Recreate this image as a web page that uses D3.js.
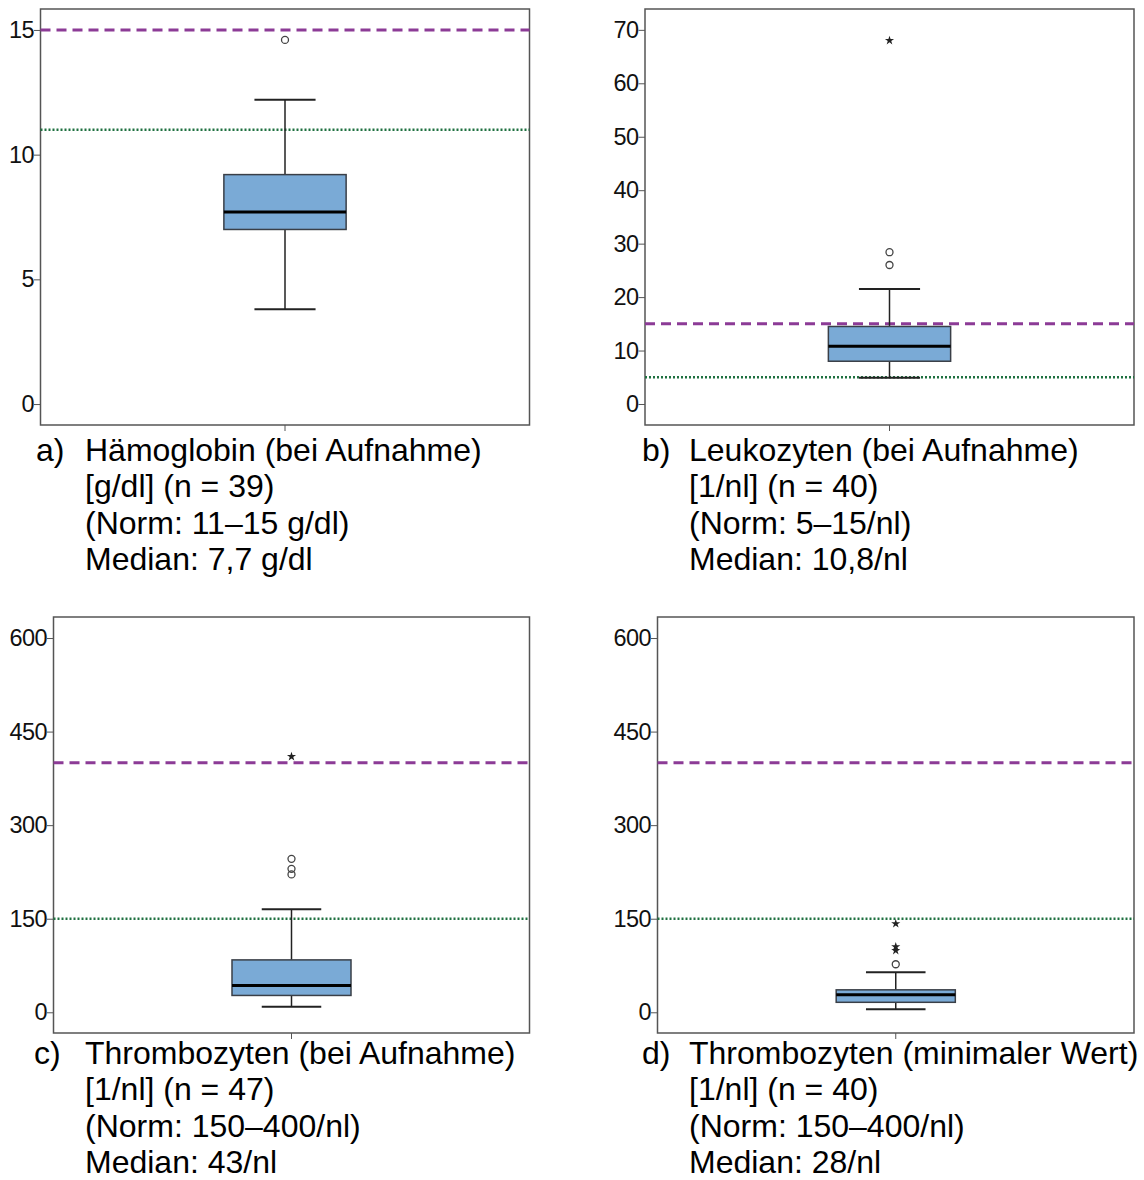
<!DOCTYPE html>
<html>
<head>
<meta charset="utf-8">
<script src="https://cdn.jsdelivr.net/npm/d3@7"></script>
<style>
  body { margin: 0; background: #fff; }
  svg { display: block; font-family: "Liberation Sans", Arial, sans-serif; }
</style>
</head>
<body>
<svg id="chart" width="1144" height="1180"></svg>
<script>
// panel keys
var panels = ["a", "b", "c", "d"];

// label lines under each panel
var labelLetters = ["a)", "b)", "c)", "d)"];
var labelLines = [
    ["Hämoglobin (bei Aufnahme)", "[g/dl] (n = 39)", "(Norm: 11–15 g/dl)", "Median: 7,7 g/dl"],
    ["Leukozyten (bei Aufnahme)", "[1/nl] (n = 40)", "(Norm: 5–15/nl)", "Median: 10,8/nl"],
    ["Thrombozyten (bei Aufnahme)", "[1/nl] (n = 47)", "(Norm: 150–400/nl)", "Median: 43/nl"],
    ["Thrombozyten (minimaler Wert)", "[1/nl] (n = 40)", "(Norm: 150–400/nl)", "Median: 28/nl"]
];

// box stats: lower whisker, Q1, median, Q3, upper whisker
var boxStats = [
    [3.8, 7.0, 7.7, 9.2, 12.2],
    [4.9, 8.0, 10.8, 14.5, 21.5],
    [9, 27, 43, 84, 165],
    [5, 16, 28, 36, 64]
];

// outliers (circles) and extreme values (stars)
var outliers = [
    [14.6],
    [26.0, 28.4],
    [221, 230, 246],
    [77]
];
var extremes = [
    [],
    [68.0],
    [410],
    [99, 105, 142]
];

// norm range: lower (dotted), upper (dashed)
var normLow = [11, 5, 150, 150];
var normHigh = [15, 15, 400, 400];

// y axis ticks and domains
var yTicks = [
    [0, 5, 10, 15],
    [0, 10, 20, 30, 40, 50, 60, 70],
    [0, 150, 300, 450, 600],
    [0, 150, 300, 450, 600]
];
var yDomains = [
    [-0.84, 15.84],
    [-3.93, 73.9],
    [-33.2, 633.7],
    [-33.2, 633.7]
];

// frame placement of each panel
var frames = [
    {left: 40.5, top: 9, width: 489, height: 416, letterX: 36, textX: 85, textY: 461},
    {left: 645, top: 9, width: 489, height: 416, letterX: 642, textX: 689, textY: 461},
    {left: 53.5, top: 617, width: 476, height: 416, letterX: 34, textX: 85, textY: 1064},
    {left: 657.5, top: 617, width: 476.5, height: 416, letterX: 642, textX: 689, textY: 1064}
];

var svg = d3.select("#chart");

function drawPanel(i) {
    var f = frames[i];
    var g = svg.append("g")
        .attr("class", "panel panel-" + panels[i])
        .attr("transform", "translate(" + f.left + "," + f.top + ")");

    var y = d3.scaleLinear().domain(yDomains[i]).range([f.height, 0]);
    var x = d3.scaleBand().domain([panels[i]]).range([0, f.width])
        .paddingInner(0).paddingOuter(1.5);

    var cx = x(panels[i]) + x.bandwidth() / 2;
    var bw = x.bandwidth();
    var s = boxStats[i];

    // frame
    g.append("rect")
        .attr("x", 0).attr("y", 0)
        .attr("width", f.width).attr("height", f.height)
        .attr("fill", "none")
        .attr("stroke", "#555")
        .attr("stroke-width", 1.5);

    // y axis
    var ya = g.append("g")
        .attr("class", "axis axisy")
        .call(d3.axisLeft(y).tickValues(yTicks[i]).tickSize(6.5).tickPadding(0));
    ya.select(".domain").remove();
    ya.selectAll("line").attr("stroke", "#555").attr("stroke-width", 1);
    ya.selectAll("text")
        .attr("font-size", 23.5)
        .attr("letter-spacing", -0.6)
        .attr("fill", "#111")
        .attr("font-family", "'Liberation Sans', Arial, sans-serif");

    // x axis (single tick, no label)
    var xa = g.append("g")
        .attr("class", "axis axisx")
        .attr("transform", "translate(0," + f.height + ")")
        .call(d3.axisBottom(x).tickSize(6).tickFormat(""));
    xa.select(".domain").remove();
    xa.selectAll("line").attr("stroke", "#555").attr("stroke-width", 1);

    // norm lines
    g.append("line")
        .attr("x1", 0).attr("x2", f.width)
        .attr("y1", y(normHigh[i])).attr("y2", y(normHigh[i]))
        .attr("stroke", "#8c3b96")
        .attr("stroke-width", 3)
        .attr("stroke-dasharray", "10,6");

    g.append("line")
        .attr("x1", 0).attr("x2", f.width)
        .attr("y1", y(normLow[i])).attr("y2", y(normLow[i]))
        .attr("stroke", "#1f7040")
        .attr("stroke-width", 2.5)
        .attr("stroke-dasharray", "2,2");

    // whiskers
    g.append("line")
        .attr("x1", cx).attr("x2", cx)
        .attr("y1", y(s[0])).attr("y2", y(s[1]))
        .attr("stroke", "#222").attr("stroke-width", 1.5);
    g.append("line")
        .attr("x1", cx).attr("x2", cx)
        .attr("y1", y(s[3])).attr("y2", y(s[4]))
        .attr("stroke", "#222").attr("stroke-width", 1.5);

    g.selectAll("line.cap")
        .data([s[0], s[4]])
        .enter().append("line")
        .attr("class", "cap")
        .attr("x1", cx - bw / 4).attr("x2", cx + bw / 4)
        .attr("y1", function(d) { return y(d); })
        .attr("y2", function(d) { return y(d); })
        .attr("stroke", "#222").attr("stroke-width", 2);

    // box
    g.append("rect")
        .attr("class", "box")
        .attr("x", x(panels[i]))
        .attr("y", y(s[3]))
        .attr("width", bw)
        .attr("height", y(s[1]) - y(s[3]))
        .attr("fill", "#7aaad6")
        .attr("stroke", "#3a3f47")
        .attr("stroke-width", 1.5);

    // median
    g.append("line")
        .attr("x1", x(panels[i])).attr("x2", x(panels[i]) + bw)
        .attr("y1", y(s[2])).attr("y2", y(s[2]))
        .attr("stroke", "#000").attr("stroke-width", 3);

    // outliers
    g.selectAll("circle.outlier")
        .data(outliers[i])
        .enter().append("circle")
        .attr("class", "outlier")
        .attr("cx", cx)
        .attr("cy", function(d) { return y(d); })
        .attr("r", 3.5)
        .attr("fill", "none")
        .attr("stroke", "#444")
        .attr("stroke-width", 1.3);

    // extreme values
    g.selectAll("path.extreme")
        .data(extremes[i])
        .enter().append("path")
        .attr("class", "extreme")
        .attr("d", d3.symbol().type(d3.symbolStar).size(26))
        .attr("transform", function(d) { return "translate(" + cx + "," + y(d) + ")"; })
        .attr("fill", "#222");

    // label text
    svg.append("text")
        .attr("x", f.letterX)
        .attr("y", f.textY)
        .attr("font-size", 32)
        .attr("fill", "#000")
        .text(labelLetters[i]);

    svg.append("g")
        .selectAll("text")
        .data(labelLines[i])
        .enter().append("text")
        .attr("x", f.textX)
        .attr("y", function(d, k) { return f.textY + k * 36.3; })
        .attr("font-size", 32)
        .attr("fill", "#000")
        .text(function(d) { return d; });
}

panels.forEach(function(p, i) {
    drawPanel(i);
});
</script>
</body>
</html>
